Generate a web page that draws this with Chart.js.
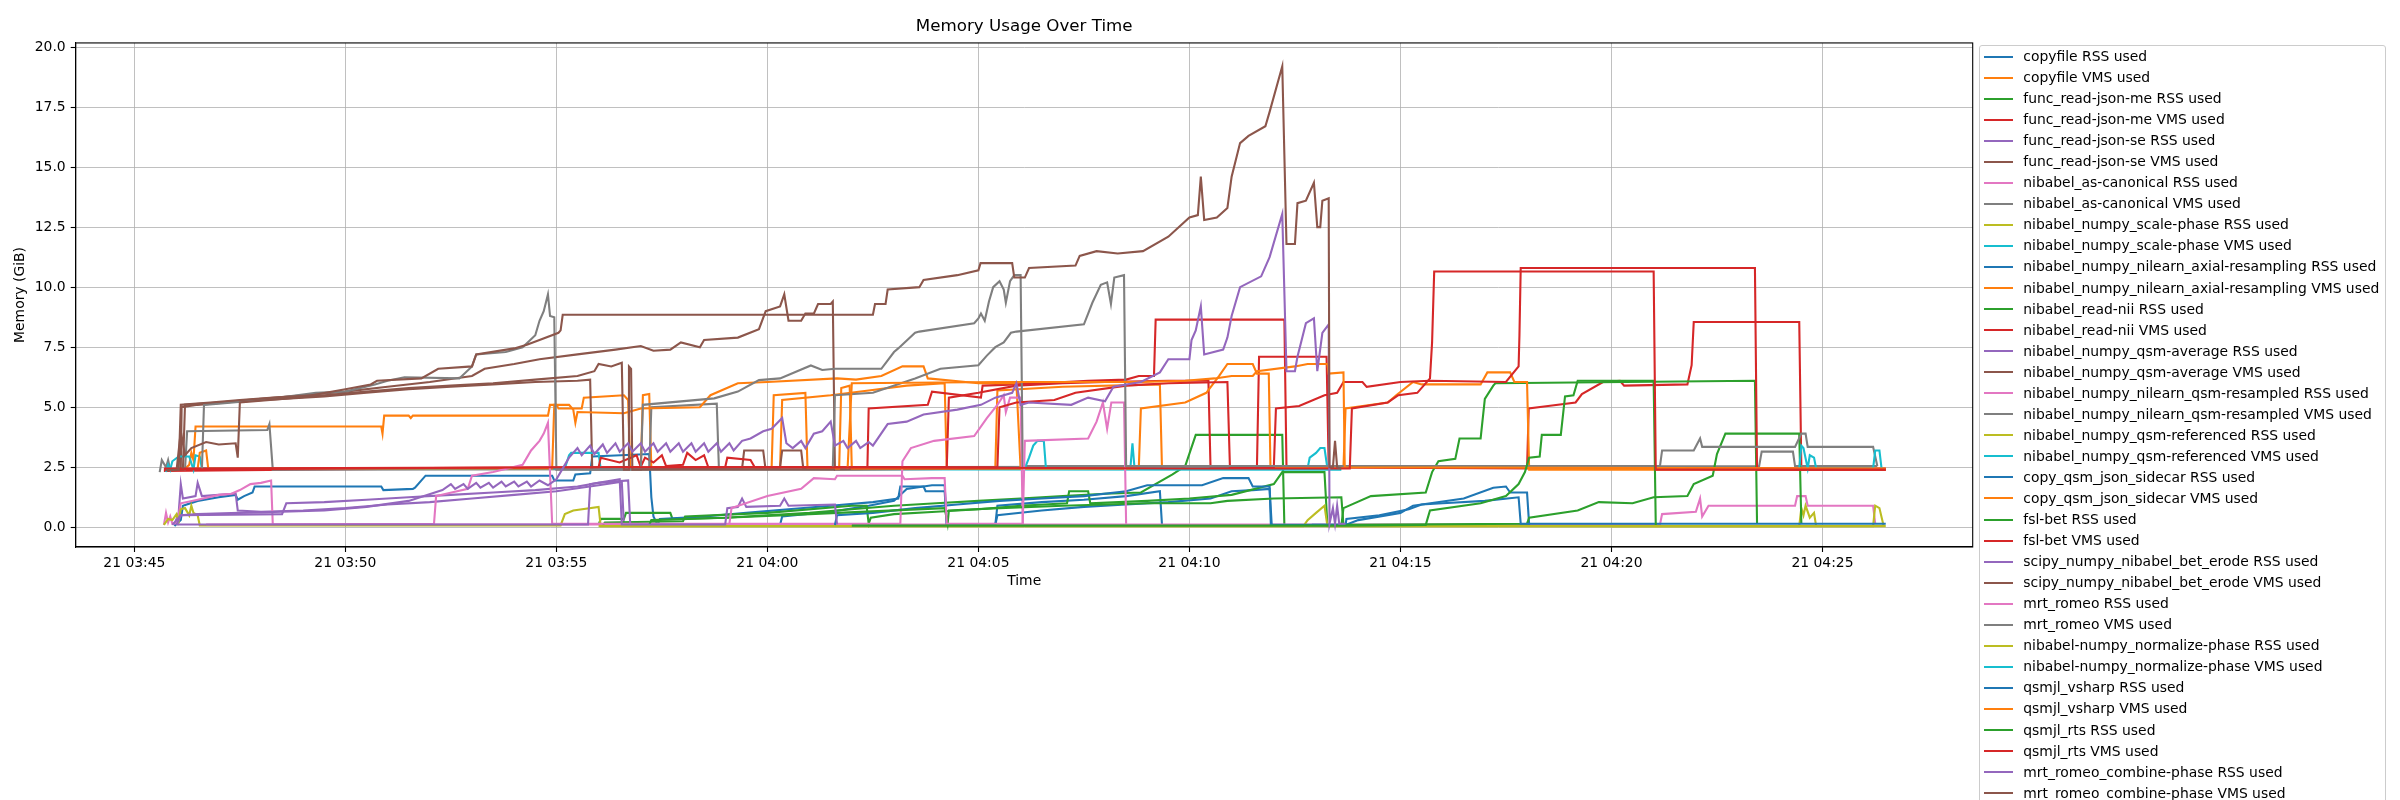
<!DOCTYPE html>
<html>
<head>
<meta charset="utf-8">
<script src="https://cdn.jsdelivr.net/npm/chart.js@4.4.0/dist/chart.umd.min.js"></script>
<style>
  html, body { margin: 0; padding: 0; width: 2400px; height: 800px; overflow: hidden; background: #fff; }
  #wrap { position: relative; width: 2400px; height: 800px; }
  #chart { position: absolute; left: 0; top: 0; }
  #legend {
    position: absolute; left: 1979px; top: 45px; width: 405px;
    border: 1px solid #cccccc; border-radius: 3px; background: #fff;
    font-family: 'DejaVu Sans', sans-serif; font-size: 13.9px; color: #000;
  }
  #legend .row { position: relative; height: 21.06px; }
  #legend .row i { position: absolute; left: 3.5px; top: 9.5px; width: 29.4px; height: 2px; }
  #legend .row span { position: absolute; left: 43.3px; top: 0; line-height: 21.06px; white-space: nowrap; }
</style>
</head>
<body>
<div id="wrap">
  <canvas id="chart" width="2400" height="800"></canvas>
  <div id="legend"></div>
</div>
<script>
// time is minutes after 03:00 (day 21), memory in GiB
const tab10 = ['#1f77b4', '#ff7f0e', '#2ca02c', '#d62728', '#9467bd', '#8c564b', '#e377c2', '#7f7f7f', '#bcbd22', '#17becf'];

const xTickMinutes = [45, 50, 55, 60, 65, 70, 75, 80, 85];
const xTickLabels = ['21 03:45', '21 03:50', '21 03:55', '21 04:00', '21 04:05', '21 04:10', '21 04:15', '21 04:20', '21 04:25'];
const yTicks = [0, 2.5, 5, 7.5, 10, 12.5, 15, 17.5, 20];

const seriesLabels = [
  'copyfile RSS used', 'copyfile VMS used',
  'func_read-json-me RSS used', 'func_read-json-me VMS used',
  'func_read-json-se RSS used', 'func_read-json-se VMS used',
  'nibabel_as-canonical RSS used', 'nibabel_as-canonical VMS used',
  'nibabel_numpy_scale-phase RSS used', 'nibabel_numpy_scale-phase VMS used',
  'nibabel_numpy_nilearn_axial-resampling RSS used', 'nibabel_numpy_nilearn_axial-resampling VMS used',
  'nibabel_read-nii RSS used', 'nibabel_read-nii VMS used',
  'nibabel_numpy_qsm-average RSS used', 'nibabel_numpy_qsm-average VMS used',
  'nibabel_numpy_nilearn_qsm-resampled RSS used', 'nibabel_numpy_nilearn_qsm-resampled VMS used',
  'nibabel_numpy_qsm-referenced RSS used', 'nibabel_numpy_qsm-referenced VMS used',
  'copy_qsm_json_sidecar RSS used', 'copy_qsm_json_sidecar VMS used',
  'fsl-bet RSS used', 'fsl-bet VMS used',
  'scipy_numpy_nibabel_bet_erode RSS used', 'scipy_numpy_nibabel_bet_erode VMS used',
  'mrt_romeo RSS used', 'mrt_romeo VMS used',
  'nibabel-numpy_normalize-phase RSS used', 'nibabel-numpy_normalize-phase VMS used',
  'qsmjl_vsharp RSS used', 'qsmjl_vsharp VMS used',
  'qsmjl_rts RSS used', 'qsmjl_rts VMS used',
  'mrt_romeo_combine-phase RSS used', 'mrt_romeo_combine-phase VMS used'
];

const copyfileRss = [[45.95,0.05],[46.1,0.3],[46.15,0.9],[46.5,1.1],[47.0,1.25],[47.4,1.35],[47.45,1.15],[47.6,1.3],[47.8,1.45],[47.85,1.7],[50.85,1.7],[50.9,1.55],[51.6,1.6],[51.65,1.65],[51.9,2.15],[54.9,2.15],[54.95,1.95],[55.4,1.95],[55.45,2.2],[55.8,2.25],[55.85,2.95],[57.2,3.05],[57.25,1.25],[57.3,0.45],[57.4,0.1],[60.3,0.1],[60.35,0.45],[61.5,0.65],[62.4,0.9],[63.0,1.1],[63.3,1.6],[63.9,1.75],[64.2,1.75],[64.25,0.1],[65.4,0.1],[65.45,0.9],[66.5,1.05],[67.5,1.15],[68.5,1.3],[69.3,1.5],[69.35,0.1]];
const copyfileVms = [[46.2,2.45],[46.3,2.6],[46.35,3.1],[46.4,2.8],[46.45,4.2],[50.85,4.2],[50.88,3.9],[50.92,4.65],[51.5,4.65],[51.55,4.55],[51.6,4.65],[54.8,4.65],[54.85,5.1],[55.0,5.1],[55.05,4.95],[55.6,4.95],[55.65,5.4],[56.6,5.5],[56.7,5.3],[56.75,2.5],[57.0,2.5],[57.05,5.5],[57.2,5.55],[57.25,2.45],[60.3,2.45],[60.35,5.3],[61.5,5.5],[62.4,5.7],[63.3,5.9],[64.2,6.0],[64.25,2.45],[65.4,2.45],[65.45,5.7],[67.0,5.85],[69.3,5.95],[69.35,2.45]];
const funcReadJsonMeRss = [[56.0,0.1],[56.05,0.35],[56.6,0.35],[56.65,0.6],[57.7,0.6],[57.75,0.35],[59.0,0.4],[60.0,0.5],[61.0,0.6],[62.0,0.75],[63.0,0.9],[64.0,1.0],[65.0,1.1],[66.0,1.2],[67.0,1.3],[68.0,1.4],[68.85,1.45],[69.6,2.2],[69.9,2.55],[70.15,3.85],[72.2,3.85],[72.25,0.07],[73.6,0.07]];
const funcReadJsonMeVms = [[45.7,2.35],[50.0,2.42],[55.0,2.48],[57.0,2.52],[57.1,2.9],[57.3,2.7],[57.5,3.0],[57.6,2.55],[58.0,2.6],[58.1,3.1],[58.3,2.8],[58.5,3.0],[58.6,2.5],[62.37,2.5],[62.4,4.95],[63.8,5.1],[63.9,5.65],[65.06,5.4],[65.1,5.9],[65.9,5.95],[66.5,6.0],[67.6,6.1],[68.5,6.15],[68.8,6.3],[69.16,6.3],[69.2,8.65],[72.25,8.65],[72.3,2.5],[78.0,2.45],[78.04,4.95],[78.5,5.05],[79.15,5.2],[79.3,5.55],[79.8,6.05],[80.2,6.1],[80.3,5.9],[81.8,5.95],[81.9,6.75],[81.95,8.55],[84.45,8.55],[84.5,2.4],[86.5,2.4]];
const funcReadJsonSeRss = [[45.95,0.1],[46.05,0.6],[46.1,1.8],[46.15,1.2],[46.45,1.3],[46.5,1.85],[46.6,1.3],[47.0,1.35],[47.4,1.4],[47.45,0.7],[48.0,0.65],[49.0,0.7],[50.0,0.8],[51.0,0.95],[52.0,1.05],[53.0,1.2],[54.0,1.35],[55.0,1.5],[56.0,1.75],[56.55,1.9],[56.6,0.1],[61.5,0.1]];
const funcReadJsonSeVms = [[45.9,2.38],[46.1,2.4],[46.12,5.0],[46.5,5.1],[47.5,5.25],[48.5,5.35],[49.5,5.45],[50.5,5.6],[51.5,5.75],[52.5,5.85],[53.5,5.95],[54.5,6.05],[55.5,6.1],[55.8,6.15],[55.85,2.4],[59.4,2.45],[59.45,3.2],[59.9,3.2],[59.95,2.5],[60.3,2.5],[60.35,3.2],[60.8,3.2],[60.85,2.45],[61.6,2.45]];
const asCanonicalRss = [[45.7,0.1],[45.75,0.6],[45.8,0.2],[45.85,0.45],[45.9,0.15],[46.0,0.2],[46.05,0.55],[46.1,1.0],[46.5,1.15],[47.0,1.35],[47.3,1.4],[47.5,1.55],[47.75,1.8],[48.0,1.85],[48.24,1.95],[48.28,0.12],[81.15,0.12],[81.2,0.55],[82.0,0.65],[82.1,1.2],[82.15,0.45],[82.3,0.9],[84.35,0.9],[84.4,1.3],[84.6,1.3],[84.65,0.9],[86.2,0.9],[86.25,0.15]];
const asCanonicalVms = [[45.6,2.3],[45.65,2.8],[45.75,2.5],[45.8,2.8],[45.85,2.4],[46.2,2.4],[46.25,4.0],[48.15,4.05],[48.2,4.3],[48.28,2.4],[57.2,2.42],[57.25,5.0],[58.8,5.15],[58.85,2.5],[83.5,2.55],[83.56,3.15],[84.3,3.15],[84.35,2.55],[86.3,2.55]];
const scalePhaseRss = [[45.7,0.1],[45.8,0.35],[45.9,0.3],[46.0,0.55],[46.05,0.25],[46.1,0.75],[46.2,0.8],[46.3,0.5],[46.35,0.9],[46.4,0.6],[46.5,0.5],[46.55,0.08],[55.1,0.08],[55.2,0.55],[55.4,0.7],[56.0,0.85],[56.05,0.05],[86.5,0.05]];
const scalePhaseVms = [[45.75,2.3],[45.8,2.6],[45.85,2.4],[45.9,2.75],[46.05,2.95],[46.3,2.95],[46.4,2.4],[46.45,3.0],[46.55,2.95],[46.6,2.45],[55.2,2.45],[55.3,3.0],[55.35,3.1],[56.0,3.1],[56.05,2.42],[73.6,2.4]];
const axialResamplingRss = [[57.4,0.1],[57.45,0.35],[58.5,0.45],[59.5,0.6],[60.5,0.75],[61.5,0.9],[62.5,1.05],[63.1,1.2],[63.15,1.7],[63.7,1.7],[63.75,1.5],[64.2,1.5],[64.25,0.1],[65.4,0.1],[65.45,0.5],[66.5,0.7],[67.5,0.85],[68.5,0.95],[69.5,1.05],[70.5,1.2],[71.0,1.5],[71.5,1.55],[71.9,1.6],[71.95,0.1]];
const axialResamplingVms = [[46.5,2.45],[46.55,3.1],[46.7,3.2],[46.75,2.45],[54.9,2.45],[54.95,5.1],[55.3,5.1],[55.4,4.9],[55.45,4.35],[55.5,4.8],[56.6,4.75],[57.0,4.95],[58.4,5.0],[58.65,5.5],[59.3,6.0],[60.0,6.05],[61.65,6.2],[62.1,6.15],[62.7,6.3],[63.2,6.7],[63.7,6.7],[63.8,6.2],[64.4,6.1],[65.0,6.0],[65.9,6.0],[66.0,2.45],[68.8,2.45]];
const readNiiRss = [[56.1,0.1],[56.15,0.2],[58.0,0.25],[58.05,0.45],[60.0,0.6],[62.0,0.9],[62.35,0.9],[62.4,0.15],[62.45,0.4],[63.0,0.55],[64.0,0.65],[65.0,0.75],[66.0,0.9],[67.1,1.0],[67.15,1.5],[67.6,1.5],[67.65,1.0],[69.0,1.1],[70.0,1.2],[71.0,1.35],[72.0,1.8],[72.2,2.3],[73.2,2.3],[73.27,0.07],[73.6,0.07],[73.65,0.8],[74.3,1.3],[75.6,1.45],[75.75,2.3],[75.9,2.75],[76.3,2.85],[76.4,3.7],[76.9,3.7],[77.0,5.35],[77.2,5.9],[77.25,6.0],[83.4,6.1],[83.45,0.15]];
const readNiiVms = [[45.7,2.45],[56.0,2.5],[56.05,2.9],[56.5,2.7],[56.9,3.0],[57.0,2.5],[59.0,2.5],[59.05,2.9],[59.6,2.8],[59.7,2.5],[64.25,2.5],[64.3,5.4],[65.0,5.6],[65.9,5.9],[67.0,6.0],[68.0,6.05],[69.5,6.1],[70.45,6.1],[70.5,2.5],[71.6,2.5],[71.65,7.1],[73.25,7.1],[73.3,2.5],[86.5,2.45]];
const qsmAverageRss = [[46.0,0.1],[46.1,0.5],[48.5,0.55],[48.6,1.0],[49.5,1.05],[50.5,1.15],[51.5,1.25],[52.5,1.35],[53.5,1.45],[54.5,1.55],[55.5,1.7],[56.0,1.85],[56.7,1.95],[56.75,0.1]];
const qsmAverageVms = [[45.8,2.38],[46.15,2.4],[46.2,5.1],[47.0,5.2],[48.0,5.35],[49.0,5.5],[50.0,5.65],[51.0,5.85],[52.0,6.05],[53.0,6.3],[53.3,6.6],[54.0,6.8],[54.6,7.0],[55.5,7.2],[56.4,7.4],[57.0,7.55],[57.3,7.35],[57.7,7.4],[57.95,7.7],[58.4,7.5],[58.5,7.8],[59.3,7.9],[59.8,8.25],[59.96,9.0],[60.3,9.2],[60.4,9.7],[60.5,8.6],[60.8,8.6],[60.9,8.9],[61.1,8.9],[61.2,9.3],[61.5,9.3],[61.55,9.4],[61.6,2.4],[66.0,2.45]];
const qsmResampledRss = [[46.7,0.12],[52.1,0.15],[52.15,1.3],[52.9,1.6],[53.0,2.15],[53.5,2.3],[54.2,2.6],[54.4,3.2],[54.6,3.6],[54.7,3.9],[54.8,4.35],[54.9,0.15],[63.15,0.15],[63.2,2.75],[63.4,3.3],[63.95,3.6],[64.9,3.8],[65.2,4.55],[65.45,5.1],[65.6,5.5],[65.65,4.8],[65.75,5.4],[66.0,5.4],[66.05,0.15]];
const qsmResampledVms = [[46.6,2.4],[46.65,5.1],[47.0,5.15],[48.0,5.3],[49.3,5.6],[50.0,5.65],[50.7,5.95],[51.0,6.1],[51.4,6.25],[52.7,6.2],[53.0,6.7],[53.1,7.2],[53.8,7.3],[54.2,7.5],[54.5,8.0],[54.6,8.6],[54.7,9.0],[54.8,9.7],[54.85,8.8],[54.95,8.75],[55.0,2.4],[57.0,2.4],[57.05,5.1],[58.74,5.37],[59.3,5.65],[59.8,6.13],[60.3,6.2],[61.03,6.74],[61.3,6.55],[61.6,6.6],[62.7,6.6],[63.0,7.3],[63.1,7.45],[63.5,8.1],[63.6,8.15],[64.9,8.5],[65.0,8.7],[65.06,8.9],[65.15,8.6],[65.25,9.4],[65.35,10.0],[65.5,10.25],[65.6,9.9],[65.65,9.35],[65.75,10.25],[65.85,10.5],[66.0,10.5],[66.05,2.55],[81.0,2.55]];
const qsmReferencedRss = [[56.0,0.05],[72.7,0.05],[72.8,0.3],[73.0,0.6],[73.2,0.9],[73.27,0.05],[84.45,0.05],[84.5,0.8],[84.55,0.5],[84.6,0.9],[84.7,0.4],[84.8,0.6],[84.85,0.05]];
const qsmReferencedVms = [[66.1,2.45],[66.2,2.9],[66.3,3.4],[66.4,3.6],[66.55,3.6],[66.6,2.45],[68.6,2.45],[68.65,3.5],[68.7,2.45],[72.8,2.45],[72.85,2.9],[73.0,3.1],[73.1,3.3],[73.2,3.3],[73.27,2.45]];
const copyQsmJsonRss = [[61.6,0.1],[61.65,0.5],[62.5,0.6],[63.5,0.8],[64.5,0.95],[65.5,1.1],[66.5,1.2],[67.5,1.3],[68.5,1.5],[69.0,1.75],[70.3,1.75],[70.8,2.05],[71.4,2.05],[71.5,1.7],[71.9,1.7],[71.93,0.1],[73.7,0.1],[74.0,0.3],[75.0,0.6],[75.3,0.9],[76.5,1.2],[77.2,1.65],[77.5,1.7],[77.6,1.45],[78.0,1.45],[78.05,0.1]];
const copyQsmJsonVms = [[60.1,2.45],[60.15,5.5],[60.9,5.6],[60.95,2.45],[61.7,2.45],[61.75,5.8],[61.95,5.9],[62.0,2.45],[68.8,2.45],[68.85,4.95],[69.9,5.2],[70.4,5.6],[70.7,6.3],[70.9,6.8],[71.5,6.8],[71.6,6.4],[71.88,6.4],[71.92,2.5],[73.65,2.5],[73.7,4.95],[74.7,5.2],[74.9,5.5],[75.3,6.05],[75.5,5.95],[76.9,5.95],[77.06,6.45],[77.6,6.45],[77.7,6.05],[78.0,6.05],[78.05,2.4],[86.5,2.4]];
const fslBetRss = [[57.2,0.1],[57.25,0.3],[59.0,0.4],[61.0,0.55],[64.2,0.8],[64.27,0.15],[64.3,0.7],[65.5,0.8],[67.0,0.9],[69.0,1.0],[70.5,1.0],[70.9,1.1],[72.0,1.2],[73.6,1.25],[73.65,0.1],[78.0,0.15],[78.05,0.4],[79.2,0.7],[79.7,1.05],[80.5,1.0],[81.0,1.25],[81.8,1.3],[81.95,1.8],[82.4,2.15],[82.5,3.05],[82.7,3.9],[84.45,3.9],[84.5,0.15]];
const fslBetVms = [[57.3,2.5],[65.45,2.5],[65.5,5.0],[65.9,5.2],[66.8,5.3],[67.3,5.6],[68.5,5.9],[69.5,6.0],[70.9,6.05],[70.96,2.5],[72.0,2.5],[72.05,4.95],[72.6,5.05],[73.2,5.5],[73.5,5.6],[73.65,6.05],[74.1,6.05],[74.2,5.85],[75.0,6.05],[75.7,6.1],[77.5,6.05],[77.8,6.7],[77.82,8.0],[77.85,10.8],[83.4,10.8],[83.45,2.4],[86.5,2.4]];
const betErodeRss = [[46.0,0.12],[55.75,0.12],[55.8,1.8],[56.5,2.0],[56.55,0.12],[59.0,0.12],[59.05,0.8],[59.3,0.85],[59.4,1.2],[59.5,0.85],[60.3,0.9],[60.4,1.2],[60.5,0.9],[61.6,0.95],[61.65,0.12]];
const betErodeVms = [[46.0,2.38],[46.1,4.0],[46.2,3.0],[46.35,3.3],[46.7,3.55],[47.0,3.45],[47.4,3.5],[47.45,2.9],[47.5,5.2],[48.5,5.35],[49.5,5.5],[50.5,5.65],[51.5,5.8],[52.5,5.9],[53.5,6.0],[54.5,6.15],[55.5,6.3],[55.9,6.5],[56.0,6.8],[56.3,6.7],[56.55,6.85],[56.6,2.4],[56.7,2.4],[56.72,6.7],[56.77,6.6],[56.8,2.4],[61.6,2.4]];
const mrtRomeoRss = [[59.1,0.15],[59.15,0.8],[60.0,1.3],[60.8,1.6],[61.1,2.05],[61.6,2.0],[61.65,2.15],[63.2,2.15],[63.25,2.0],[63.9,2.05],[64.2,2.05],[64.25,0.15],[66.05,0.15],[66.1,3.6],[67.6,3.7],[67.8,4.4],[67.95,5.2],[68.05,4.1],[68.15,5.2],[68.45,5.2],[68.5,0.15]];
const mrtRomeoVms = [[61.55,2.5],[61.6,5.5],[62.5,5.6],[63.5,6.2],[64.1,6.6],[65.0,6.75],[65.2,7.15],[65.4,7.5],[65.6,7.7],[65.77,8.1],[65.9,8.15],[67.5,8.45],[67.6,8.9],[67.7,9.35],[67.9,10.1],[68.05,10.2],[68.14,9.3],[68.22,10.4],[68.45,10.5],[68.5,2.55],[81.15,2.55],[81.2,3.2],[81.95,3.2],[82.1,3.7],[82.15,3.35],[84.35,3.35],[84.5,3.9],[84.6,3.9],[84.65,3.35],[86.2,3.35],[86.3,2.55]];
const normalizePhaseRss = [[80.0,0.05],[86.2,0.05],[86.25,0.9],[86.35,0.8],[86.45,0.05]];
const normalizePhaseVms = [[84.45,2.45],[84.5,3.4],[84.55,3.3],[84.65,2.45],[84.7,3.0],[84.8,2.9],[84.85,2.45],[86.2,2.45],[86.25,3.2],[86.35,3.2],[86.4,2.45]];
const qsmjlVsharpRss = [[72.9,0.1],[73.7,0.1],[73.72,0.35],[74.5,0.5],[75.2,0.75],[75.5,0.95],[76.0,1.0],[77.0,1.1],[77.8,1.25],[77.85,0.15],[86.5,0.15]];
const qsmjlVsharpVms = [[61.9,2.45],[62.0,6.0],[65.5,6.05],[67.5,6.05],[68.85,6.05],[69.9,6.1],[70.6,6.2],[71.0,6.3],[71.5,6.3],[71.6,6.5],[72.5,6.7],[72.8,6.8],[73.27,6.8],[73.3,6.4],[73.65,6.45],[73.68,2.5],[86.5,2.45]];
const qsmjlRtsRss = [[62.0,0.07],[73.6,0.07],[75.6,0.1],[75.7,0.7],[76.9,1.0],[77.5,1.3],[77.8,1.8],[77.95,2.3],[78.05,2.9],[78.3,2.95],[78.35,3.85],[78.8,3.85],[78.9,5.45],[79.1,5.5],[79.2,6.1],[81.0,6.1],[81.05,0.1]];
const qsmjlRtsVms = [[45.7,2.4],[50.0,2.45],[55.0,2.5],[60.0,2.5],[65.0,2.48],[70.0,2.45],[73.8,2.45],[73.85,4.95],[74.7,5.2],[74.95,5.5],[75.4,5.6],[75.7,6.2],[75.75,7.7],[75.8,10.65],[81.0,10.65],[81.05,2.4],[86.5,2.4]];
const combinePhaseRss = [[45.9,0.1],[46.1,0.5],[46.5,0.55],[47.5,0.6],[48.5,0.65],[49.5,0.7],[50.5,0.85],[51.5,1.1],[52.3,1.55],[52.5,1.8],[52.6,1.6],[52.8,1.8],[52.9,1.6],[53.1,1.85],[53.2,1.65],[53.4,1.85],[53.5,1.65],[53.7,1.9],[53.8,1.7],[54.0,1.9],[54.1,1.7],[54.3,1.9],[54.4,1.7],[54.6,1.95],[54.8,1.75],[55.0,2.0],[55.2,2.6],[55.3,2.9],[55.5,3.3],[55.6,3.0],[55.8,3.4],[55.9,3.05],[56.1,3.45],[56.2,3.1],[56.4,3.5],[56.5,3.15],[56.7,3.5],[56.8,3.15],[57.0,3.5],[57.1,3.15],[57.3,3.5],[57.4,3.15],[57.6,3.5],[57.7,3.15],[57.9,3.5],[58.0,3.15],[58.2,3.5],[58.3,3.15],[58.5,3.5],[58.6,3.15],[58.8,3.5],[58.9,3.15],[59.1,3.5],[59.2,3.2],[59.4,3.6],[59.6,3.7],[59.9,4.0],[60.1,4.1],[60.35,4.55],[60.45,3.5],[60.6,3.3],[60.8,3.6],[60.9,3.3],[61.1,3.9],[61.3,4.0],[61.5,4.4],[61.6,3.4],[61.8,3.6],[61.9,3.3],[62.1,3.6],[62.2,3.3],[62.4,3.55],[62.5,3.4],[62.85,4.3],[63.3,4.4],[63.7,4.7],[64.5,4.9],[65.06,5.1],[65.4,5.4],[65.8,5.6],[65.9,6.0],[66.0,5.1],[66.2,5.2],[67.2,5.1],[67.6,5.4],[68.0,5.25],[68.2,5.85],[68.85,6.05],[69.3,6.45],[69.5,7.0],[70.0,7.0],[70.05,7.8],[70.15,8.2],[70.27,9.2],[70.35,7.2],[70.8,7.4],[70.9,7.9],[71.0,8.8],[71.2,10.0],[71.7,10.45],[71.9,11.25],[72.2,13.05],[72.3,6.5],[72.5,6.5],[72.56,7.1],[72.76,8.5],[72.95,8.7],[73.03,6.5],[73.15,8.1],[73.3,8.45],[73.32,0.15],[73.4,0.8],[73.45,0.15],[73.5,0.9],[73.55,0.15],[73.7,0.15]];
const combinePhaseVms = [[45.75,2.38],[46.05,2.4],[46.1,5.1],[46.8,5.2],[47.5,5.3],[48.3,5.4],[49.2,5.5],[50.0,5.75],[50.6,5.95],[50.75,6.1],[51.8,6.2],[52.2,6.6],[53.0,6.7],[53.1,7.2],[54.0,7.45],[54.3,7.6],[54.6,7.8],[55.05,8.1],[55.1,8.2],[55.15,8.85],[62.5,8.85],[62.55,9.3],[62.8,9.3],[62.85,9.9],[63.6,10.0],[63.7,10.3],[64.5,10.5],[65.0,10.7],[65.05,11.0],[65.8,11.0],[65.85,10.4],[66.1,10.4],[66.2,10.8],[67.3,10.9],[67.4,11.3],[67.8,11.5],[68.3,11.4],[68.9,11.5],[69.5,12.1],[70.0,12.9],[70.2,13.0],[70.27,14.6],[70.35,12.8],[70.65,12.9],[70.9,13.3],[71.0,14.6],[71.2,16.0],[71.4,16.3],[71.8,16.7],[71.9,17.3],[72.2,19.2],[72.3,11.8],[72.5,11.8],[72.56,13.5],[72.76,13.6],[72.95,14.35],[73.03,12.5],[73.1,12.5],[73.15,13.6],[73.3,13.7],[73.32,2.5],[73.4,2.5],[73.45,3.6],[73.5,2.5],[73.6,2.45]];

const seriesPoints = [
  copyfileRss, copyfileVms, funcReadJsonMeRss, funcReadJsonMeVms, funcReadJsonSeRss, funcReadJsonSeVms,
  asCanonicalRss, asCanonicalVms, scalePhaseRss, scalePhaseVms, axialResamplingRss, axialResamplingVms,
  readNiiRss, readNiiVms, qsmAverageRss, qsmAverageVms, qsmResampledRss, qsmResampledVms,
  qsmReferencedRss, qsmReferencedVms, copyQsmJsonRss, copyQsmJsonVms, fslBetRss, fslBetVms,
  betErodeRss, betErodeVms, mrtRomeoRss, mrtRomeoVms, normalizePhaseRss, normalizePhaseVms,
  qsmjlVsharpRss, qsmjlVsharpVms, qsmjlRtsRss, qsmjlRtsVms, combinePhaseRss, combinePhaseVms
];

const baseFont = { family: 'DejaVu Sans', size: 13.9, lineHeight: 1.2 };

// matplotlib draws a box round the axes, chart.js only the axis sides
const frame = {
  id: 'frame',
  afterDatasetsDraw(chart) {
    const { ctx, chartArea: a } = chart;
    ctx.save();
    ctx.strokeStyle = '#000';
    ctx.lineWidth = 1.1;
    ctx.strokeRect(a.left, a.top, a.right - a.left, a.bottom - a.top);
    ctx.restore();
  }
};

const datasets = seriesLabels.map((label, i) => ({
  label: label,
  data: seriesPoints[i].map(p => ({ x: p[0], y: p[1] })),
  borderColor: tab10[i % 10],
  backgroundColor: tab10[i % 10],
  borderWidth: 2.1,
  pointRadius: 0,
  tension: 0,
  fill: false,
  order: seriesLabels.length - i
}));

new Chart(document.getElementById('chart'), {
  type: 'line',
  data: { datasets: datasets },
  plugins: [frame],
  options: {
    responsive: false,
    animation: false,
    layout: { padding: { left: 0, right: 427.3, top: 0, bottom: 208 } },
    plugins: {
      legend: { display: false },
      tooltip: { enabled: false },
      title: {
        display: true,
        text: 'Memory Usage Over Time',
        fullSize: false,
        color: '#000',
        font: { family: 'DejaVu Sans', size: 16.7, weight: 'normal', lineHeight: 1.2 },
        padding: { top: 16.8, bottom: 6.1 }
      }
    },
    scales: {
      x: {
        type: 'linear',
        min: 43.61,
        max: 88.56,
        afterBuildTicks: s => { s.ticks = xTickMinutes.map(v => ({ value: v })); },
        afterFit: s => { s.height = 45; },
        ticks: {
          callback: (v, i) => xTickLabels[i],
          color: '#000', font: baseFont, padding: 3, maxRotation: 0, autoSkip: false
        },
        grid: { color: '#b0b0b0', lineWidth: 0.8, tickLength: 5, tickColor: '#000', tickWidth: 1.1 },
        border: { display: true, color: '#000', width: 1.1 },
        title: { display: true, text: 'Time', color: '#000', font: baseFont, padding: { top: 0, bottom: 2.2 } }
      },
      y: {
        type: 'linear',
        min: -0.82,
        max: 20.17,
        afterBuildTicks: s => { s.ticks = yTicks.map(v => ({ value: v })); },
        afterFit: s => { s.width = 75.7; },
        ticks: {
          callback: v => v.toFixed(1),
          color: '#000', font: baseFont, padding: 5
        },
        grid: { color: '#b0b0b0', lineWidth: 0.8, tickLength: 5, tickColor: '#000', tickWidth: 1.1 },
        border: { display: true, color: '#000', width: 1.1 },
        title: { display: true, text: 'Memory (GiB)', color: '#000', font: baseFont, padding: { top: 11.7, bottom: 0 } }
      }
    }
  }
});

// legend as in the figure: one column, running past the bottom edge
const legendBox = document.getElementById('legend');
seriesLabels.forEach((label, i) => {
  const row = document.createElement('div');
  row.className = 'row';
  const swatch = document.createElement('i');
  swatch.style.background = tab10[i % 10];
  const text = document.createElement('span');
  text.textContent = label;
  row.appendChild(swatch);
  row.appendChild(text);
  legendBox.appendChild(row);
});
</script>
</body>
</html>
